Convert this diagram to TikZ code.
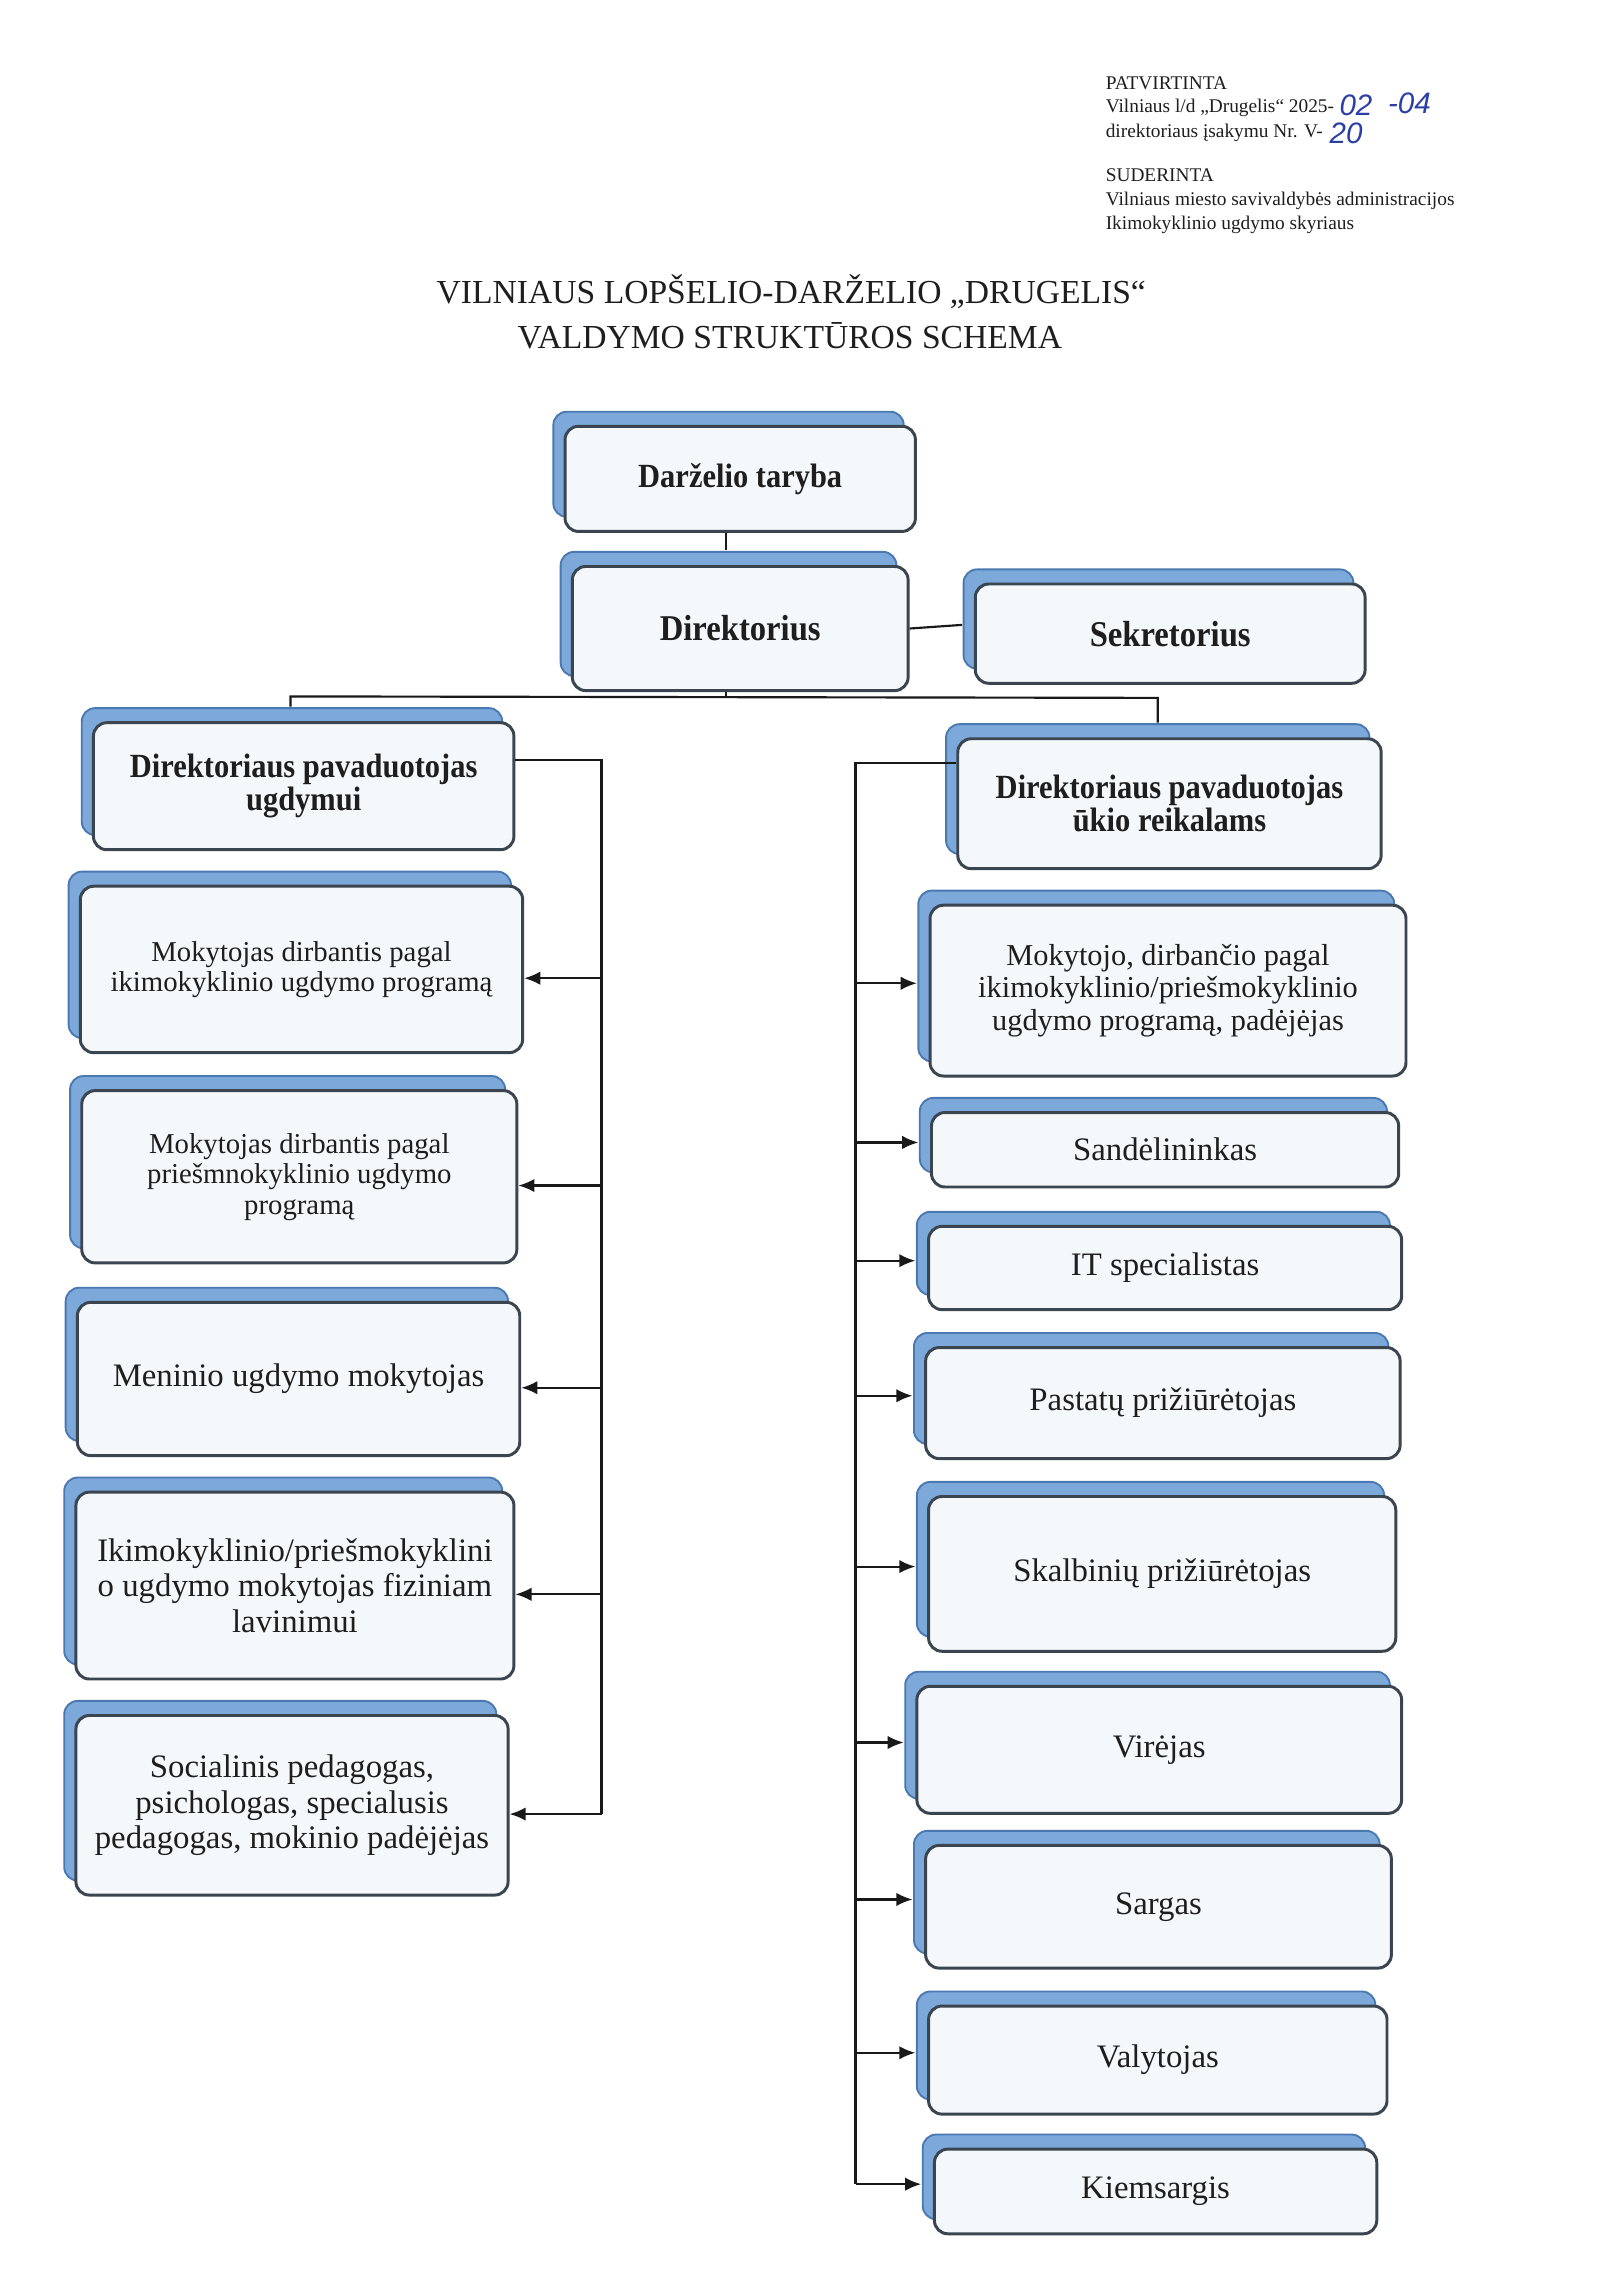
\documentclass[tikz,border=0pt]{standalone}
\usepackage{fontspec}
\setmainfont{Liberation Serif}
\newfontfamily\bcfont[FakeStretch=0.9]{Liberation Serif}
\newfontfamily\handfont{Liberation Sans}
\usetikzlibrary{shadows,calc,arrows.meta}
\definecolor{cardblue}{HTML}{7CA8DA}
\definecolor{cardblueD}{HTML}{4A78B0}
\definecolor{boxline}{HTML}{3A4550}
\definecolor{boxfill}{HTML}{F5F8FA}
\definecolor{ink}{HTML}{2B3FA6}
\definecolor{txt}{HTML}{1E1E1E}
\def\U{0.5432pt}
\begin{document}
\begin{tikzpicture}[x=0.5432pt,y=-0.5432pt,
 card/.style={draw=boxline, line width=1.1pt, rounded corners=5pt, fill=boxfill, align=center, inner sep=2pt, text=txt,
   copy shadow={shadow xshift=-4.35pt, shadow yshift=5.43pt, fill=cardblue, draw=cardblueD, line width=0.7pt}},
 bcard/.style={card, font=\bcfont\bfseries\fontsize{13.5}{15.5}\selectfont},
 bscard/.style={card, font=\bcfont\bfseries\fontsize{12.6}{12.2}\selectfont},
 rcard/.style={card, font=\fontsize{12.2}{13.2}\selectfont},
 mcard/.style={card, font=\fontsize{11.3}{12}\selectfont},
 scard/.style={card, font=\fontsize{10.7}{11.4}\selectfont},
 conn/.style={draw=black!90, line width=0.8pt},
 arr/.style={conn, -{Latex[length=6pt,width=5pt]}},
 hdr/.style={anchor=base west, inner sep=0pt, font=\fontsize{7.2}{9}\selectfont, text=txt},
 hand/.style={anchor=base west, inner sep=0pt, text=ink, font=\handfont\itshape\fontsize{11}{12}\selectfont},
 ttl/.style={anchor=base, inner sep=0pt, font=\fontsize{12.5}{15}\selectfont, text=txt},
]
\useasboundingbox[fill=white] (0,0) rectangle (1100,1568.5);

% header
\node[hdr] (h1) at (757,61) {PATVIRTINTA};
\node[hdr] (h2) at (757,77) {Vilniaus l/d „Drugelis“ 2025-};
\node[hdr] (h3) at (757,94) {direktoriaus įsakymu Nr. V-};
\node[hand] (hw1) at ($(h2.base east)+(3,2)$) {02};
\node[hand] (hw2) at ($(hw1.base east)+(10,-1)$) {-04};
\node[hand] (hw3) at ($(h3.base east)+(4,4)$) {20};
\node[hdr] (h4) at (757,124) {SUDERINTA};
\node[hdr] (h5) at (757,141) {Vilniaus miesto savivaldybės administracijos};
\node[hdr] (h6) at (757,157) {Ikimokyklinio ugdymo skyriaus};

% title
\node[ttl] (t1) at (542,208) {VILNIAUS LOPŠELIO-DARŽELIO „DRUGELIS“};
\node[ttl] (t2) at (541,239) {VALDYMO STRUKTŪROS SCHEMA};

% top boxes
\node[bscard, minimum width=240*\U, minimum height=72*\U] (tar) at (507,328) {Darželio taryba};
\node[bcard, minimum width=230*\U, minimum height=85*\U] (dir) at (507,430.5) {Direktorius};
\node[bcard, minimum width=267*\U, minimum height=68*\U] (sek) at (801.5,434) {Sekretorius};
\node[bscard, minimum width=288*\U, minimum height=87*\U] (pu) at (208,538.5) {Direktoriaus pavaduotojas\\ugdymui};
\node[bscard, minimum width=290*\U, minimum height=89*\U] (uk) at (801,550.5) {Direktoriaus pavaduotojas\\ūkio reikalams};

% left column
\node[scard, minimum width=303*\U, minimum height=114*\U] (m1) at (206.5,664) {Mokytojas dirbantis pagal\\ikimokyklinio ugdymo programą};
\node[scard, minimum width=298*\U, minimum height=118*\U] (m2) at (205,806) {Mokytojas dirbantis pagal\\priešmnokyklinio ugdymo\\programą};
\node[rcard, minimum width=303*\U, minimum height=105*\U] (m3) at (204.5,944.5) {Meninio ugdymo mokytojas};
\node[rcard, minimum width=300*\U, minimum height=128*\U] (m4) at (202,1086) {Ikimokyklinio/priešmokyklini\\o ugdymo mokytojas fiziniam\\lavinimui};
\node[rcard, minimum width=296*\U, minimum height=123*\U] (m5) at (200,1236.5) {Socialinis pedagogas,\\psichologas, specialusis\\pedagogas, mokinio padėjėjas};

% right column
\node[mcard, minimum width=326*\U, minimum height=117*\U] (r1) at (800,678.5) {Mokytojo, dirbančio pagal\\ikimokyklinio/priešmokyklinio\\ugdymo programą, padėjėjas};
\node[rcard, minimum width=320*\U, minimum height=51*\U] (r2) at (798,787.5) {Sandėlininkas};
\node[rcard, minimum width=324*\U, minimum height=57*\U] (r3) at (798,868.5) {IT specialistas};
\node[rcard, minimum width=325*\U, minimum height=76*\U] (r4) at (796.5,961) {Pastatų prižiūrėtojas};
\node[rcard, minimum width=320*\U, minimum height=106*\U] (r5) at (796,1078) {Skalbinių prižiūrėtojas};
\node[rcard, minimum width=332*\U, minimum height=87*\U] (r6) at (794,1198.5) {Virėjas};
\node[rcard, minimum width=319*\U, minimum height=84*\U] (r7) at (793.5,1306) {Sargas};
\node[rcard, minimum width=314*\U, minimum height=74*\U] (r8) at (793,1411) {Valytojas};
\node[rcard, minimum width=303*\U, minimum height=58*\U] (r9) at (791.5,1501) {Kiemsargis};

% top connectors
\draw[conn] ($(tar.south)+(-10,0)$) -- ($(dir.north)+(-10,-10)$);
\draw[conn] (dir.east) -- ($(sek.west)+(-8,-6)$);
\coordinate (dS) at ($(dir.south)+(-10,0)$);
\coordinate (bL) at (199,477);
\coordinate (bR) at (793,478);
\draw[conn] (dS) -- (dS |- bL);
\draw[conn] ($(pu.north)+(-9,-10)$) -- (bL) -- (bR) -- ($(uk.north)+(-8,-10)$);

% left branch
\coordinate (pE) at ($(pu.east)+(0,-18)$);
\coordinate (lx) at (412,520);
\foreach \n in {m1,m2,m3,m4,m5}{\coordinate (\n a) at ($(\n.east)+(0,6)$);}
\draw[conn] (pE) -- (pE -| lx) -- (lx |- m5a);
\foreach \n in {m1,m2,m3,m4,m5}{\draw[arr] (lx |- \n a) -- (\n a);}

% right branch
\coordinate (uW) at ($(uk.west)+(0,-28)$);
\coordinate (rx) at (586,520);
\foreach \n in {r1,r2,r3,r4,r5,r6,r7,r8,r9}{\coordinate (\n a) at ($(\n.west)+(-8,-5)$);}
\draw[conn] (uW) -- (uW -| rx) -- (rx |- r9a);
\foreach \n in {r1,r2,r3,r4,r5,r6,r7,r8,r9}{\draw[arr] (rx |- \n a) -- (\n a);}
\end{tikzpicture}
\end{document}
